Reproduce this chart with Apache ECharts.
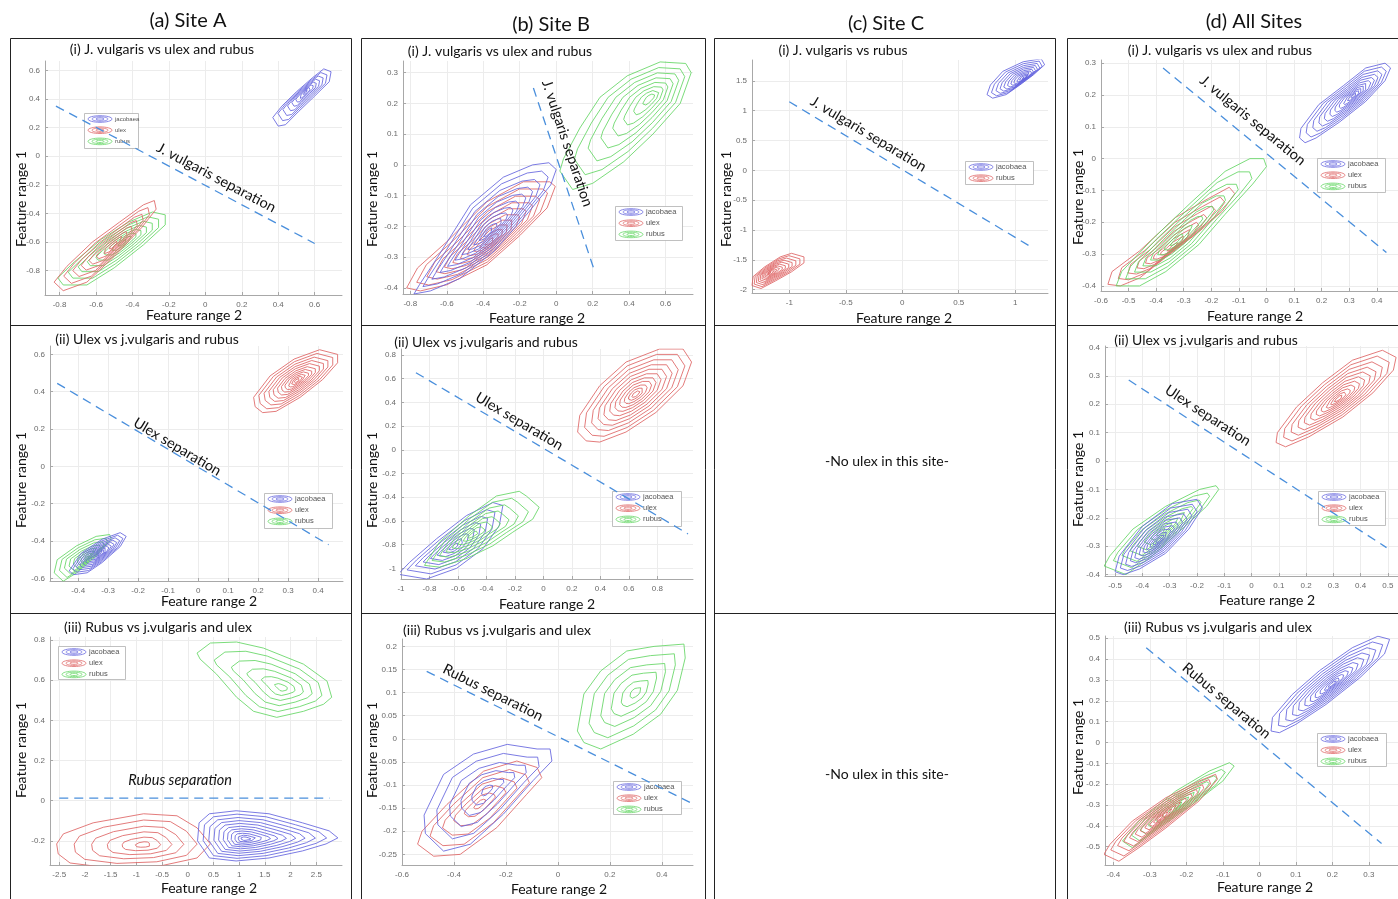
<!DOCTYPE html>
<html><head><meta charset="utf-8">
<script src="https://cdn.jsdelivr.net/npm/echarts@6/dist/echarts.min.js"></script>
<style>html,body{margin:0;padding:0;background:#fff}#c{width:1398px;height:899px}</style>
</head><body><div id="c"></div>
<script>
// ================= DATA =================
const COLUMN_TITLES = ['(a) Site A', '(b) Site B', '(c) Site C', '(d) All Sites'];
const PANEL_TITLES = {
  A1: '(i) J. vulgaris vs ulex and rubus', B1: '(i) J. vulgaris vs ulex and rubus',
  C1: '(i) J. vulgaris vs rubus', D1: '(i) J. vulgaris vs ulex and rubus',
  A2: '(ii) Ulex vs j.vulgaris and rubus', B2: '(ii) Ulex vs j.vulgaris and rubus',
  D2: '(ii) Ulex vs j.vulgaris and rubus',
  A3: '(iii) Rubus vs j.vulgaris and ulex', B3: '(iii) Rubus vs j.vulgaris and ulex',
  D3: '(iii) Rubus vs j.vulgaris and ulex'
};
const NO_ULEX_TEXT = '-No ulex in this site-';
const X_NAME = 'Feature range 2';
const Y_NAME = 'Feature range 1';
const SEP_TEXT = { A1: 'J. vulgaris separation', B1: 'J. vulgaris separation', C1: 'J. vulgaris separation',
  D1: 'J. vulgaris separation', A2: 'Ulex separation', B2: 'Ulex separation', D2: 'Ulex separation',
  A3: 'Rubus separation', B3: 'Rubus separation', D3: 'Rubus separation' };

// tick labels
const XT_A1 = [-0.8, -0.6, -0.4, -0.2, 0, 0.2, 0.4, 0.6];
const YT_A1 = [-0.8, -0.6, -0.4, -0.2, 0, 0.2, 0.4, 0.6];
const XT_B1 = [-0.8, -0.6, -0.4, -0.2, 0, 0.2, 0.4, 0.6];
const YT_B1 = [-0.4, -0.3, -0.2, -0.1, 0, 0.1, 0.2, 0.3];
const XT_C1 = [-1, -0.5, 0, 0.5, 1];
const YT_C1 = [-2, -1.5, -1, -0.5, 0, 0.5, 1, 1.5];
const XT_D1 = [-0.6, -0.5, -0.4, -0.3, -0.2, -0.1, 0, 0.1, 0.2, 0.3, 0.4];
const YT_D1 = [-0.4, -0.3, -0.2, -0.1, 0, 0.1, 0.2, 0.3];
const XT_A2 = [-0.4, -0.3, -0.2, -0.1, 0, 0.1, 0.2, 0.3, 0.4];
const YT_A2 = [-0.6, -0.4, -0.2, 0, 0.2, 0.4, 0.6];
const XT_B2 = [-1, -0.8, -0.6, -0.4, -0.2, 0, 0.2, 0.4, 0.6, 0.8];
const YT_B2 = [-1, -0.8, -0.6, -0.4, -0.2, 0, 0.2, 0.4, 0.6, 0.8];
const XT_D2 = [-0.5, -0.4, -0.3, -0.2, -0.1, 0, 0.1, 0.2, 0.3, 0.4, 0.5];
const YT_D2 = [-0.4, -0.3, -0.2, -0.1, 0, 0.1, 0.2, 0.3, 0.4];
const XT_A3 = [-2.5, -2, -1.5, -1, -0.5, 0, 0.5, 1, 1.5, 2, 2.5];
const YT_A3 = [-0.2, 0, 0.2, 0.4, 0.6, 0.8];
const XT_B3 = [-0.6, -0.4, -0.2, 0, 0.2, 0.4];
const YT_B3 = [-0.25, -0.2, -0.15, -0.1, -0.05, 0, 0.05, 0.1, 0.15, 0.2];
const XT_D3 = [-0.4, -0.3, -0.2, -0.1, 0, 0.1, 0.2, 0.3];
const YT_D3 = [-0.5, -0.4, -0.3, -0.2, -0.1, 0, 0.1, 0.2, 0.3, 0.4, 0.5];

// axis ranges [min, max]
const XR_A1 = [-0.88, 0.75],  YR_A1 = [-0.97, 0.665];
const XR_B1 = [-0.84, 0.75],  YR_B1 = [-0.42, 0.338];
const XR_C1 = [-1.33, 1.29],  YR_C1 = [-2.055, 1.85];
const XR_D1 = [-0.6, 0.477],  YR_D1 = [-0.416, 0.31];
const XR_A2 = [-0.494, 0.483], YR_A2 = [-0.614, 0.645];
const XR_B2 = [-1.0, 1.05],   YR_B2 = [-1.09, 0.85];
const XR_D2 = [-0.537, 0.537], YR_D2 = [-0.405, 0.405];
const XR_A3 = [-2.68, 3.0],   YR_A3 = [-0.32, 0.815];
const XR_B3 = [-0.6, 0.52],   YR_B3 = [-0.273, 0.216];
const XR_D3 = [-0.423, 0.38], YR_D3 = [-0.588, 0.511];

// contour density levels (fraction of the outer contour size)
const LEVELS_DENSE  = [1, 0.88, 0.76, 0.65, 0.55, 0.45, 0.36, 0.28, 0.2, 0.13, 0.07];
const LEVELS_MED    = [1, 0.84, 0.69, 0.55, 0.42, 0.3, 0.19, 0.09];
const LEVELS_SPARSE = [1, 0.8, 0.6, 0.42, 0.25, 0.1];

// outer contours [x, y] and density peaks
const A1_JAC = [[0.40,0.21],[0.37,0.27],[0.42,0.35],[0.50,0.45],[0.59,0.55],[0.65,0.61],[0.69,0.59],[0.68,0.52],[0.60,0.42],[0.51,0.31],[0.44,0.22]];
const A1_JAC_PEAK = [0.55, 0.45];
const A1_ULE = [[-0.78,-0.94],[-0.83,-0.88],[-0.76,-0.77],[-0.62,-0.60],[-0.47,-0.46],[-0.34,-0.34],[-0.28,-0.31],[-0.27,-0.37],[-0.35,-0.50],[-0.50,-0.70],[-0.65,-0.88]];
const A1_ULE_PEAK = [-0.50, -0.62];
const A1_RUB = [[-0.78,-0.90],[-0.81,-0.85],[-0.72,-0.74],[-0.57,-0.58],[-0.42,-0.46],[-0.29,-0.39],[-0.22,-0.41],[-0.22,-0.48],[-0.34,-0.62],[-0.50,-0.78],[-0.65,-0.90]];
const A1_RUB_PEAK = [-0.45, -0.60];
const A1_SEP = [[-0.82, 0.35], [0.60, -0.61]];

const B1_RUB = [[0.02,-0.02],[0.09,-0.08],[0.20,-0.06],[0.37,0.01],[0.53,0.10],[0.68,0.20],[0.74,0.30],[0.71,0.33],[0.57,0.335],[0.39,0.29],[0.24,0.22],[0.13,0.12],[0.04,0.02]];
const B1_RUB_PEAK = [0.52, 0.22];
const B1_JAC = [[-0.78,-0.42],[-0.75,-0.39],[-0.65,-0.30],[-0.47,-0.13],[-0.29,-0.04],[-0.13,0.0],[-0.04,0.007],[0.0,-0.015],[-0.03,-0.065],[-0.16,-0.16],[-0.34,-0.28],[-0.53,-0.37],[-0.69,-0.41]];
const B1_JAC_PEAK = [-0.37, -0.22];
const B1_ULE = [[-0.82,-0.40],[-0.76,-0.335],[-0.60,-0.25],[-0.38,-0.12],[-0.18,-0.055],[-0.035,-0.055],[-0.005,-0.07],[-0.05,-0.14],[-0.20,-0.23],[-0.38,-0.325],[-0.60,-0.39],[-0.745,-0.41]];
const B1_ULE_PEAK = [-0.36, -0.25];
const B1_SEP = [[-0.125, 0.25], [0.21, -0.345]];

const C1_JAC = [[0.75,1.27],[0.78,1.43],[0.89,1.66],[1.07,1.82],[1.23,1.87],[1.26,1.77],[1.16,1.60],[1.04,1.43],[0.92,1.27],[0.80,1.21]];
const C1_JAC_PEAK = [1.08, 1.55];
const C1_RUB = [[-1.33,-1.93],[-1.32,-1.78],[-1.22,-1.62],[-1.08,-1.45],[-0.98,-1.39],[-0.87,-1.45],[-0.87,-1.55],[-0.98,-1.70],[-1.12,-1.85],[-1.25,-1.98]];
const C1_RUB_PEAK = [-1.17, -1.72];
const C1_SEP = [[-1.0, 1.15], [1.12, -1.26]];

const D1_JAC = [[0.12,0.065],[0.125,0.095],[0.19,0.17],[0.28,0.23],[0.36,0.285],[0.43,0.30],[0.45,0.285],[0.43,0.245],[0.36,0.18],[0.265,0.115],[0.18,0.065],[0.14,0.05]];
const D1_JAC_PEAK = [0.32, 0.2];
const D1_RUB = [[-0.545,-0.40],[-0.525,-0.355],[-0.41,-0.25],[-0.27,-0.135],[-0.15,-0.04],[-0.06,0.0],[-0.01,0.0],[0.0,-0.025],[-0.05,-0.08],[-0.15,-0.175],[-0.245,-0.27],[-0.365,-0.355],[-0.46,-0.40]];
const D1_RUB_PEAK = [-0.33, -0.26];
const D1_ULE = [[-0.575,-0.395],[-0.56,-0.355],[-0.46,-0.29],[-0.33,-0.185],[-0.21,-0.125],[-0.135,-0.09],[-0.115,-0.11],[-0.16,-0.165],[-0.245,-0.23],[-0.365,-0.31],[-0.46,-0.375],[-0.53,-0.40]];
const D1_ULE_PEAK = [-0.34, -0.28];
const D1_SEP = [[-0.375, 0.285], [0.435, -0.295]];

const A2_ULE = [[0.19,0.32],[0.185,0.37],[0.24,0.485],[0.32,0.575],[0.405,0.625],[0.465,0.60],[0.465,0.555],[0.415,0.465],[0.34,0.37],[0.26,0.295],[0.215,0.288]];
const A2_ULE_PEAK = [0.33, 0.46];
const A2_JAC = [[-0.43,-0.56],[-0.39,-0.465],[-0.32,-0.39],[-0.26,-0.355],[-0.24,-0.375],[-0.26,-0.43],[-0.32,-0.515],[-0.37,-0.57],[-0.415,-0.58]];
const A2_JAC_PEAK = [-0.33, -0.47];
const A2_RUB = [[-0.48,-0.57],[-0.47,-0.50],[-0.405,-0.425],[-0.34,-0.375],[-0.295,-0.365],[-0.29,-0.39],[-0.34,-0.48],[-0.405,-0.57],[-0.45,-0.615]];
const A2_RUB_PEAK = [-0.37, -0.49];
const A2_SEP = [[-0.47, 0.445], [0.435, -0.42]];

const B2_ULE = [[0.24,0.15],[0.255,0.29],[0.395,0.54],[0.58,0.74],[0.815,0.85],[0.98,0.85],[1.04,0.74],[0.98,0.54],[0.79,0.315],[0.58,0.15],[0.395,0.065],[0.30,0.075]];
const B2_ULE_PEAK = [0.65, 0.47];
const B2_JAC = [[-1.02,-1.05],[-0.94,-0.95],[-0.75,-0.75],[-0.54,-0.555],[-0.355,-0.445],[-0.285,-0.47],[-0.31,-0.64],[-0.425,-0.835],[-0.61,-1.0],[-0.82,-1.09]];
const B2_JAC_PEAK = [-0.63, -0.82];
const B2_RUB = [[-0.835,-0.975],[-0.73,-0.78],[-0.52,-0.555],[-0.33,-0.39],[-0.17,-0.35],[-0.12,-0.39],[-0.03,-0.485],[-0.075,-0.585],[-0.215,-0.695],[-0.355,-0.81],[-0.545,-0.92],[-0.73,-0.99]];
const B2_RUB_PEAK = [-0.5, -0.72];
const B2_SEP = [[-0.895, 0.65], [1.015, -0.71]];

const D2_ULE = [[0.09,0.065],[0.095,0.10],[0.165,0.19],[0.26,0.275],[0.37,0.355],[0.48,0.39],[0.53,0.365],[0.52,0.32],[0.445,0.24],[0.335,0.155],[0.21,0.085],[0.125,0.05]];
const D2_ULE_PEAK = [0.32, 0.22];
const D2_JAC = [[-0.50,-0.39],[-0.485,-0.335],[-0.40,-0.23],[-0.29,-0.15],[-0.20,-0.135],[-0.18,-0.165],[-0.23,-0.24],[-0.315,-0.325],[-0.41,-0.38],[-0.47,-0.40]];
const D2_JAC_PEAK = [-0.34, -0.28];
const D2_RUB = [[-0.54,-0.37],[-0.52,-0.335],[-0.435,-0.24],[-0.315,-0.16],[-0.19,-0.10],[-0.13,-0.087],[-0.12,-0.10],[-0.165,-0.16],[-0.255,-0.24],[-0.365,-0.335],[-0.46,-0.40]];
const D2_RUB_PEAK = [-0.33, -0.25];
const D2_SEP = [[-0.45, 0.285], [0.495, -0.305]];

const A3_RUB = [[0.18,0.735],[0.44,0.785],[0.95,0.79],[1.47,0.76],[2.25,0.68],[2.71,0.595],[2.8,0.515],[2.64,0.48],[2.25,0.445],[1.73,0.415],[1.28,0.445],[0.95,0.515],[0.56,0.63],[0.24,0.705]];
const A3_RUB_PEAK = [1.85, 0.56];
const A3_JAC = [[0.22,-0.11],[0.42,-0.065],[0.94,-0.05],[1.58,-0.065],[2.23,-0.11],[2.75,-0.15],[2.92,-0.185],[2.69,-0.215],[2.23,-0.25],[1.58,-0.285],[0.94,-0.30],[0.42,-0.285],[0.19,-0.20]];
const A3_JAC_PEAK = [1.1, -0.19];
const A3_ULE = [[-2.55,-0.215],[-2.42,-0.165],[-1.84,-0.11],[-0.86,-0.065],[-0.21,-0.075],[0.18,-0.135],[0.44,-0.215],[0.18,-0.285],[-0.54,-0.325],[-1.51,-0.335],[-2.29,-0.31],[-2.52,-0.265]];
const A3_ULE_PEAK = [-0.85, -0.22];
const A3_SEP = [[-2.5, 0.013], [2.76, 0.013]];

const B3_RUB = [[0.075,0.017],[0.10,0.097],[0.165,0.147],[0.265,0.19],[0.37,0.20],[0.485,0.205],[0.49,0.175],[0.46,0.105],[0.395,0.053],[0.29,0.01],[0.165,-0.022],[0.10,-0.008]];
const B3_RUB_PEAK = [0.3, 0.1];
const B3_JAC = [[-0.51,-0.205],[-0.515,-0.165],[-0.44,-0.077],[-0.325,-0.033],[-0.195,-0.012],[-0.08,-0.022],[-0.03,-0.022],[-0.023,-0.048],[-0.095,-0.09],[-0.21,-0.163],[-0.337,-0.228],[-0.44,-0.243]];
const B3_JAC_PEAK = [-0.27, -0.11];
const B3_ULE = [[-0.54,-0.228],[-0.523,-0.20],[-0.427,-0.142],[-0.286,-0.07],[-0.158,-0.048],[-0.08,-0.062],[-0.062,-0.084],[-0.12,-0.12],[-0.235,-0.192],[-0.376,-0.25],[-0.478,-0.254]];
const B3_ULE_PEAK = [-0.3, -0.14];
const B3_SEP = [[-0.505, 0.146], [0.51, -0.138]];

const D3_JAC = [[0.032,0.055],[0.036,0.12],[0.09,0.23],[0.165,0.345],[0.255,0.455],[0.325,0.51],[0.357,0.495],[0.343,0.425],[0.275,0.31],[0.183,0.183],[0.10,0.087],[0.055,0.047]];
const D3_JAC_PEAK = [0.2, 0.28];
const D3_ULE = [[-0.426,-0.537],[-0.41,-0.49],[-0.348,-0.377],[-0.256,-0.265],[-0.165,-0.185],[-0.12,-0.153],[-0.115,-0.177],[-0.165,-0.28],[-0.256,-0.41],[-0.33,-0.505],[-0.385,-0.57]];
const D3_ULE_PEAK = [-0.27, -0.36];
const D3_RUB = [[-0.375,-0.473],[-0.33,-0.377],[-0.229,-0.233],[-0.137,-0.137],[-0.082,-0.097],[-0.069,-0.113],[-0.10,-0.185],[-0.183,-0.297],[-0.275,-0.41],[-0.348,-0.505]];
const D3_RUB_PEAK = [-0.22, -0.3];
const D3_SEP = [[-0.31, 0.455], [0.335, -0.485]];

// separation label anchor points (data coordinates)
const SEP_ANCHOR = { A1: [0.06, -0.15], B1: [0.06, 0.07], C1: [-0.3, 0.61], D1: [-0.05, 0.12],
  A2: [-0.07, 0.105], B2: [-0.17, 0.24], D2: [-0.16, 0.16], A3: [-0.15, 0.1], B3: [-0.25, 0.1], D3: [-0.09, 0.2] };

// ================= STYLE / LAYOUT =================
const COL = { jacobaea: 'rgba(100,100,222,0.85)', ulex: 'rgba(222,100,100,0.85)', rubus: 'rgba(100,214,100,0.85)' };
const SEP_COLOR = '#4a8fdc';
const TITLE_FONT = 'Lato, "Open Sans", sans-serif';

function cl(sp, outer, peak, levels, color) { return { sp, outer, peak, levels, color: color || COL[sp] }; }

const PANELS = [
  { key: 'A1', box: [45, 61, 342, 295], xr: XR_A1, yr: YR_A1, xt: XT_A1, yt: YT_A1, sep: A1_SEP,
    clusters: [cl('rubus', A1_RUB, A1_RUB_PEAK, LEVELS_MED), cl('ulex', A1_ULE, A1_ULE_PEAK, LEVELS_MED), cl('jacobaea', A1_JAC, A1_JAC_PEAK, LEVELS_MED)],
    title: [162, 49], yname: [21, 199], xname: [194, 315], legend: { x: 84, y: 113, w: 54, h: 35, fs: 6 } },
  { key: 'B1', box: [403, 61, 693, 294], xr: XR_B1, yr: YR_B1, xt: XT_B1, yt: YT_B1, sep: B1_SEP,
    clusters: [cl('rubus', B1_RUB, B1_RUB_PEAK, LEVELS_MED), cl('ulex', B1_ULE, B1_ULE_PEAK, LEVELS_DENSE), cl('jacobaea', B1_JAC, B1_JAC_PEAK, LEVELS_DENSE)],
    title: [500, 51], yname: [372, 199], xname: [537, 318], legend: { x: 615, y: 206, w: 67, h: 34, fs: 7.5 } },
  { key: 'C1', box: [752, 60, 1048, 293], xr: XR_C1, yr: YR_C1, xt: XT_C1, yt: YT_C1, sep: C1_SEP,
    clusters: [cl('rubus', C1_RUB, C1_RUB_PEAK, LEVELS_DENSE, COL.ulex), cl('jacobaea', C1_JAC, C1_JAC_PEAK, LEVELS_DENSE)],
    title: [843, 50], yname: [726, 199], xname: [904, 318], legend: { x: 965, y: 161, w: 68, h: 23, fs: 7.5, items: [['jacobaea', COL.jacobaea], ['rubus', COL.ulex]] } },
  { key: 'D1', box: [1101, 60, 1398, 291], xr: XR_D1, yr: YR_D1, xt: XT_D1, yt: YT_D1, sep: D1_SEP,
    clusters: [cl('ulex', D1_ULE, D1_ULE_PEAK, LEVELS_MED), cl('rubus', D1_RUB, D1_RUB_PEAK, LEVELS_MED), cl('jacobaea', D1_JAC, D1_JAC_PEAK, LEVELS_DENSE)],
    title: [1220, 50], yname: [1078, 197], xname: [1255, 316], legend: { x: 1317, y: 158, w: 68, h: 34, fs: 7.5 } },
  { key: 'A2', box: [50, 346, 343, 581], xr: XR_A2, yr: YR_A2, xt: XT_A2, yt: YT_A2, sep: A2_SEP,
    clusters: [cl('ulex', A2_ULE, A2_ULE_PEAK, LEVELS_DENSE), cl('rubus', A2_RUB, A2_RUB_PEAK, LEVELS_MED), cl('jacobaea', A2_JAC, A2_JAC_PEAK, LEVELS_DENSE)],
    title: [147, 339], yname: [21, 480], xname: [209, 601], legend: { x: 264, y: 493, w: 68, h: 35, fs: 7.5 } },
  { key: 'B2', box: [401, 349, 693, 579], xr: XR_B2, yr: YR_B2, xt: XT_B2, yt: YT_B2, sep: B2_SEP,
    clusters: [cl('ulex', B2_ULE, B2_ULE_PEAK, LEVELS_DENSE), cl('jacobaea', B2_JAC, B2_JAC_PEAK, LEVELS_MED), cl('rubus', B2_RUB, B2_RUB_PEAK, LEVELS_MED)],
    title: [486, 342], yname: [372, 480], xname: [547, 604], legend: { x: 612, y: 491, w: 69, h: 35, fs: 7.5 } },
  { key: 'D2', box: [1105, 346, 1398, 576], xr: XR_D2, yr: YR_D2, xt: XT_D2, yt: YT_D2, sep: D2_SEP,
    clusters: [cl('ulex', D2_ULE, D2_ULE_PEAK, LEVELS_DENSE), cl('rubus', D2_RUB, D2_RUB_PEAK, LEVELS_MED), cl('jacobaea', D2_JAC, D2_JAC_PEAK, LEVELS_DENSE)],
    title: [1206, 340], yname: [1078, 479], xname: [1267, 600], legend: { x: 1318, y: 491, w: 67, h: 34, fs: 7.5 } },
  { key: 'A3', box: [50, 637, 342, 865], xr: XR_A3, yr: YR_A3, xt: XT_A3, yt: YT_A3, sep: A3_SEP, italic: true,
    clusters: [cl('rubus', A3_RUB, A3_RUB_PEAK, LEVELS_SPARSE), cl('ulex', A3_ULE, A3_ULE_PEAK, LEVELS_SPARSE), cl('jacobaea', A3_JAC, A3_JAC_PEAK, LEVELS_DENSE)],
    title: [158, 627], yname: [21, 750], xname: [209, 888], legend: { x: 58, y: 646, w: 67, h: 33, fs: 7.5 } },
  { key: 'B3', box: [402, 639, 693, 865], xr: XR_B3, yr: YR_B3, xt: XT_B3, yt: YT_B3, sep: B3_SEP,
    clusters: [cl('rubus', B3_RUB, B3_RUB_PEAK, LEVELS_SPARSE), cl('ulex', B3_ULE, B3_ULE_PEAK, LEVELS_SPARSE), cl('jacobaea', B3_JAC, B3_JAC_PEAK, LEVELS_SPARSE)],
    title: [497, 630], yname: [372, 750], xname: [559, 889], legend: { x: 613, y: 781, w: 68, h: 33, fs: 7.5 } },
  { key: 'D3', box: [1105, 636, 1398, 865], xr: XR_D3, yr: YR_D3, xt: XT_D3, yt: YT_D3, sep: D3_SEP,
    clusters: [cl('rubus', D3_RUB, D3_RUB_PEAK, LEVELS_MED), cl('ulex', D3_ULE, D3_ULE_PEAK, LEVELS_DENSE), cl('jacobaea', D3_JAC, D3_JAC_PEAK, LEVELS_DENSE)],
    title: [1218, 627], yname: [1078, 747], xname: [1265, 887], legend: { x: 1317, y: 733, w: 69, h: 33, fs: 7.5 } }
];

const fmt = v => String(Math.round(v * 1000) / 1000);

function makeAxis(i, range, ticks, isX) {
  return {
    type: 'value', gridIndex: i, min: range[0], max: range[1],
    axisLine: { show: true, onZero: false, lineStyle: { color: '#a8a8a8', width: 1 } },
    axisTick: { show: true, inside: true, length: 3, customValues: ticks, lineStyle: { color: '#a8a8a8' } },
    axisLabel: { customValues: ticks, formatter: fmt, fontSize: 8, color: '#6a6a6a', margin: isX ? 6 : 5,
      fontFamily: '"Liberation Sans", Arial, sans-serif', hideOverlap: false },
    splitLine: { show: true, lineStyle: { color: '#ececec', width: 1 } }
  };
}

const grids = [], xAxes = [], yAxes = [], series = [];
PANELS.forEach((p, i) => {
  const [l, t, r, b] = p.box;
  grids.push({ left: l, top: t, width: r - l, height: b - t });
  xAxes.push(makeAxis(i, p.xr, p.xt, true));
  yAxes.push(makeAxis(i, p.yr, p.yt, false));
  p.clusters.forEach(c => {
    c.levels.forEach(s => {
      const pts = c.outer.map(q => [c.peak[0] + (q[0] - c.peak[0]) * s, c.peak[1] + (q[1] - c.peak[1]) * s]);
      pts.push(pts[0]);
      series.push({ type: 'line', name: c.sp, xAxisIndex: i, yAxisIndex: i, data: pts, symbol: 'none',
        lineStyle: { color: c.color, width: 1 }, silent: true, clip: true, z: 2 });
    });
  });
  series.push({ type: 'line', name: 'sep', xAxisIndex: i, yAxisIndex: i, data: p.sep, symbol: 'none',
    lineStyle: { color: SEP_COLOR, width: 1.3, type: [9, 6] }, silent: true, z: 3 });
});

const chart = echarts.init(document.getElementById('c'));
chart.setOption({ animation: false, backgroundColor: '#fff', grid: grids, xAxis: xAxes, yAxis: yAxes, series });

// ================= GRAPHIC OVERLAYS =================
const g = [];
function txt(x, y, text, size, opts) {
  return Object.assign({ type: 'text', x, y, z: 50, style: { text, fontSize: size, fontFamily: TITLE_FONT,
    fill: '#111', textAlign: 'center', textVerticalAlign: 'middle' } }, opts || {});
}
// frames
const COL_X = [[10, 351], [361, 705], [714, 1055], [1067, 1400]];
COL_X.forEach(([a, b]) => {
  g.push({ type: 'rect', z: 40, shape: { x: a + 0.5, y: 38.5, width: b - a, height: 870 }, style: { fill: 'none', stroke: '#222', lineWidth: 1 } });
  [325.5, 613.5].forEach(yy => g.push({ type: 'line', z: 40, shape: { x1: a + 0.5, y1: yy, x2: b + 0.5, y2: yy }, style: { stroke: '#222', lineWidth: 1 } }));
});
// column titles
[[188, 21], [551, 25], [886, 24], [1254, 22]].forEach((pos, k) => g.push(txt(pos[0], pos[1], COLUMN_TITLES[k], 20)));
// empty panels
g.push(txt(887, 461, NO_ULEX_TEXT, 14));
g.push(txt(887, 774, NO_ULEX_TEXT, 14));

PANELS.forEach((p, i) => {
  g.push(txt(p.title[0], p.title[1], PANEL_TITLES[p.key], 14));
  g.push(txt(p.xname[0], p.xname[1], X_NAME, 14));
  g.push(txt(p.yname[0], p.yname[1], Y_NAME, 14, { rotation: Math.PI / 2 }));
  // separation label, aligned with the separation line
  const p1 = chart.convertToPixel({ gridIndex: i }, p.sep[0]);
  const p2 = chart.convertToPixel({ gridIndex: i }, p.sep[1]);
  const ang = Math.atan2(p2[1] - p1[1], p2[0] - p1[0]);
  const c = chart.convertToPixel({ gridIndex: i }, SEP_ANCHOR[p.key]);
  const s = txt(c[0], c[1], SEP_TEXT[p.key], 14.5, { rotation: -ang });
  if (p.italic) s.style.fontStyle = 'italic';
  g.push(s);
  // legend
  const L = p.legend;
  const items = L.items || [['jacobaea', COL.jacobaea], ['ulex', COL.ulex], ['rubus', COL.rubus]];
  const ch = [{ type: 'rect', shape: { x: 0.5, y: 0.5, width: L.w, height: L.h }, style: { fill: '#fff', stroke: '#b0b0b0', lineWidth: 0.8 } }];
  items.forEach((it, k) => {
    const cy = 6 + k * 11.2;
    [[12, 3.3], [8, 2.2], [4, 1.1]].forEach(([rx, ry]) => ch.push({ type: 'ellipse', shape: { cx: 16, cy, rx, ry }, style: { fill: 'none', stroke: it[1], lineWidth: 0.9 } }));
    ch.push({ type: 'text', x: 31, y: cy, style: { text: it[0], fontSize: L.fs, fill: '#555', fontFamily: '"Liberation Sans", Arial, sans-serif', textVerticalAlign: 'middle' } });
  });
  g.push({ type: 'group', x: L.x, y: L.y, z: 60, children: ch });
});
chart.setOption({ graphic: g });
</script>
</body></html>
